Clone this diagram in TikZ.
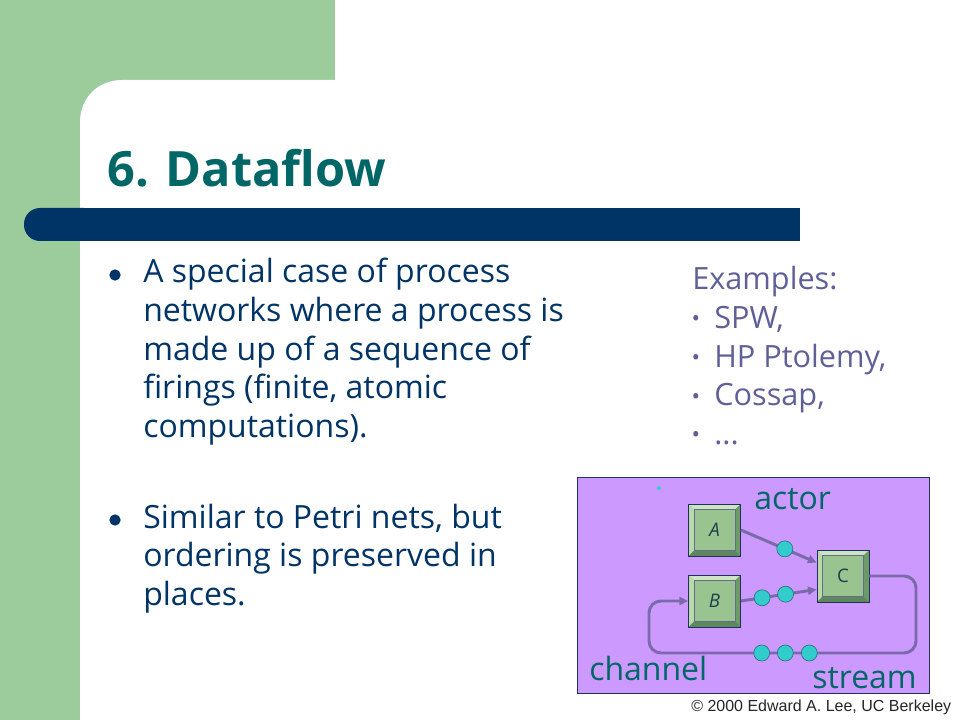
\documentclass[tikz,border=0pt]{standalone}
\usepackage{fontspec}
\setmainfont{Open Sans}
\newfontfamily\arialfont{Liberation Sans}
\usetikzlibrary{arrows.meta}
\definecolor{slidegreen}{HTML}{9CCC9C}
\definecolor{barblue}{HTML}{003366}
\definecolor{titleteal}{HTML}{006666}
\definecolor{bodynavy}{HTML}{003366}
\definecolor{exviolet}{HTML}{606099}
\definecolor{panelfill}{HTML}{CC99FF}
\definecolor{panelline}{HTML}{1F2F5F}
\definecolor{flowline}{HTML}{7A6AAA}
\definecolor{tokenfill}{HTML}{33CCCC}
\definecolor{tokenline}{HTML}{2F6F7F}
\definecolor{faceg}{HTML}{99C48F}
\definecolor{bevtop}{HTML}{CCE4C0}
\definecolor{bevleft}{HTML}{BAD8AC}
\definecolor{bevright}{HTML}{6E9A6A}
\definecolor{bevbottom}{HTML}{5E885C}
\definecolor{letterc}{HTML}{1A3F4F}
\newcommand\exbul{\makebox[16.5pt][l]{\hspace{-0.5pt}{\fontsize{17}{17}\selectfont\raisebox{1.2pt}{•}}}}
\tikzset{
  bodytext/.style={anchor=base west, inner sep=0pt, text=bodynavy, font=\fontsize{24}{28.9}\selectfont},
  extext/.style={anchor=base west, inner sep=0pt, text=exviolet, font=\fontsize{23}{28.9}\selectfont},
  labeltext/.style={anchor=base west, inner sep=0pt, text=titleteal, font=\fontsize{24}{24}\selectfont},
  bulletdot/.style={circle, fill=bodynavy, inner sep=0pt, minimum size=8.5pt},
  actorbox/.style={draw=panelline, line width=0.6pt, fill=faceg, minimum size=39pt, inner sep=0pt,
    text=letterc, font=\fontsize{14}{14}\selectfont,
    path picture={
      \fill[bevtop] (path picture bounding box.north west) -- (path picture bounding box.north east)
        -- ([shift={(-4pt,-4pt)}]path picture bounding box.north east)
        -- ([shift={(4pt,-4pt)}]path picture bounding box.north west) -- cycle;
      \fill[bevleft] (path picture bounding box.north west)
        -- ([shift={(4pt,-4pt)}]path picture bounding box.north west)
        -- ([shift={(4pt,4pt)}]path picture bounding box.south west)
        -- (path picture bounding box.south west) -- cycle;
      \fill[bevright] (path picture bounding box.north east) -- (path picture bounding box.south east)
        -- ([shift={(-4pt,4pt)}]path picture bounding box.south east)
        -- ([shift={(-4pt,-4pt)}]path picture bounding box.north east) -- cycle;
      \fill[bevbottom] (path picture bounding box.south west) -- (path picture bounding box.south east)
        -- ([shift={(-4pt,4pt)}]path picture bounding box.south east)
        -- ([shift={(4pt,4pt)}]path picture bounding box.south west) -- cycle;
      \draw[panelline!70, line width=0.3pt] ([shift={(4pt,4pt)}]path picture bounding box.south west)
        rectangle ([shift={(-4pt,-4pt)}]path picture bounding box.north east);
    }},
  token/.style={circle, fill=tokenfill, draw=tokenline, line width=0.5pt, minimum size=12pt, inner sep=0pt},
  flow/.style={draw=flowline, line width=2.2pt},
  flowarrow/.style={flow, -{Triangle[length=6.5pt,width=6pt]}}
}
\begin{document}
\begin{tikzpicture}[x=0.75pt, y=-0.75pt]
\useasboundingbox (0,0) rectangle (960,720);
% background
\fill[slidegreen] (0,0) rectangle (960,720);
\fill[white] (335,0) rectangle (960,80);
\fill[white] (80,720) -- (80,122) .. controls (80,98) and (98,80) .. (122,80) -- (960,80) -- (960,720) -- cycle;
% title bar
\fill[barblue, rounded corners=12pt] (24,208) rectangle (100,241);
\fill[barblue] (60,208) rectangle (800,241);
% title
\node[anchor=base west, inner sep=0pt, text=titleteal, font=\fontsize{36.5}{36.5}\selectfont\bfseries] (title) at (107,187) {6. Dataflow};
% bullets
\node[bulletdot] (d1) at (115,275) {};
\node[bodytext] (b1) at (143,283) {\vtop{\hbox{A special case of process}\hbox{networks where a process is}\hbox{made up of a sequence of}\hbox{firings (finite, atomic}\hbox{computations).}}};
\node[bulletdot] (d2) at (115,520) {};
\node[bodytext] (b2) at (143,528) {\vtop{\hbox{Similar to Petri nets, but}\hbox{ordering is preserved in}\hbox{places.}}};
% examples
\node[extext] (ex) at (692,290) {\vtop{\hbox{Examples:}\hbox{\exbul SPW,}\hbox{\exbul HP Ptolemy,}\hbox{\exbul Cossap,}\hbox{\exbul ...}}};
% panel
\draw[fill=panelfill, draw=panelline, line width=0.8pt] (577.5,477.5) rectangle (929.5,693.5);
\fill[tokenfill] (659,488) circle (1.5pt);
% actors
\node[actorbox] (A) at (714.5,530) {\itshape A};
\node[actorbox] (B) at (714.5,601) {\itshape B};
\node[actorbox] (C) at (843,576) {C};
% connectors
\draw[flowarrow] (A.east) -- (C.153) node[token, pos=0.58] (t1) {};
\draw[flowarrow] (B.east) -- (C.207) node[token, pos=0.28] (t2) {} node[token, pos=0.59] (t3) {};
\draw[flowarrow, rounded corners=9pt] (C.east) -- (916,576) -- (916,653) -- (649,653) -- (649,601) -- (B.west);
\node[token] (t4) at (761.7,653) {};
\node[token] (t5) at (785.3,653) {};
\node[token] (t6) at (809.3,653) {};
% labels
\node[labeltext] (actor) at (754,509) {actor};
\node[labeltext] (channel) at (589,680) {channel};
\node[labeltext] (stream) at (812,688) {stream};
% copyright
\node[anchor=base west, inner sep=0pt, text=black!85, font=\arialfont\fontsize{12}{12}\selectfont] (copy) at (691,711.5) {© 2000 Edward A. Lee, UC Berkeley};
\end{tikzpicture}
\end{document}
